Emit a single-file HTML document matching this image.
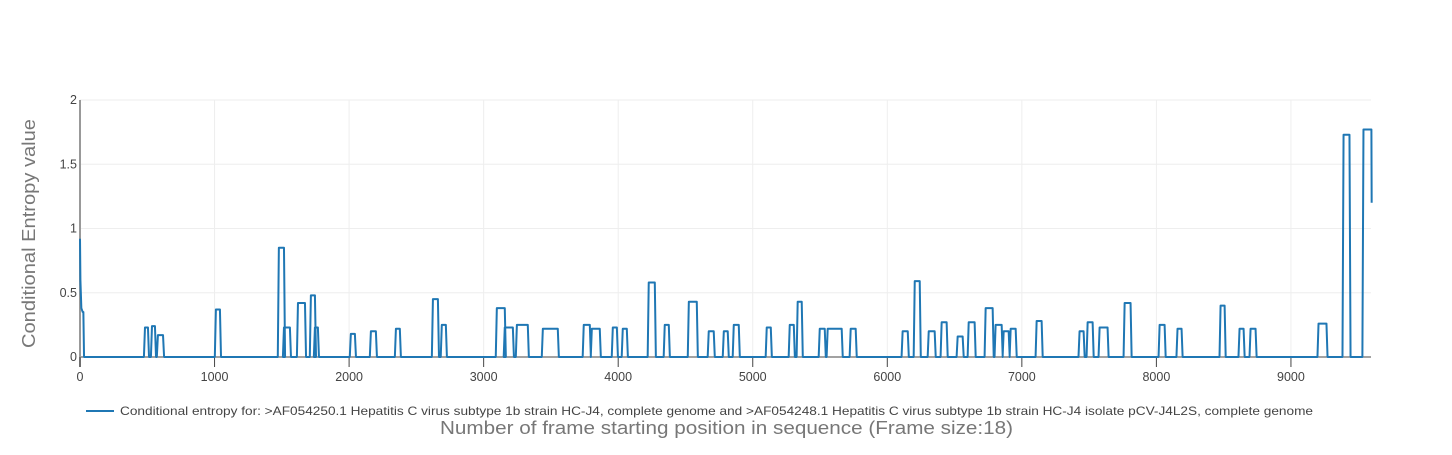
<!DOCTYPE html>
<html><head><meta charset="utf-8"><style>
body{margin:0;background:#fff;font-family:"Liberation Sans",sans-serif;}
svg text{font-family:"Liberation Sans",sans-serif;}
</style></head><body>
<svg id="chart" width="1452" height="450" xmlns="http://www.w3.org/2000/svg">
<g id="grid"></g>
<g id="xticks"></g>
<g id="yticks"></g>
<path id="line" fill="none" stroke="#1f77b4" stroke-width="2" stroke-linejoin="round"></path>
<g>
<line x1="86" y1="411" x2="114" y2="411" stroke="#1f77b4" stroke-width="2"/>
<text x="120" y="415" font-size="12" fill="#444" textLength="1193" lengthAdjust="spacingAndGlyphs">Conditional entropy for: &gt;AF054250.1 Hepatitis C virus subtype 1b strain HC-J4, complete genome and &gt;AF054248.1 Hepatitis C virus subtype 1b strain HC-J4 isolate pCV-J4L2S, complete genome</text>
</g>
<text x="440" y="434" font-size="18" fill="#777" textLength="573" lengthAdjust="spacingAndGlyphs">Number of frame starting position in sequence (Frame size:18)</text>
<text transform="translate(35,348) rotate(-90)" font-size="18" fill="#777" textLength="229" lengthAdjust="spacingAndGlyphs">Conditional Entropy value</text>
</svg>
<script>
const xTicks=[0,1000,2000,3000,4000,5000,6000,7000,8000,9000];
const yTicks=[0,0.5,1,1.5,2];
const yTickLabels=["0","0.5","1","1.5","2"];
const initX=[0,3,10,20,25,30];
const initY=[0.92,0.6,0.38,0.35,0.35,0];
const blockStart=[483,535,579,1010,1478,1516,1620,1716,1746,2013,2162,2348,2623,2689,3098,3157,3247,3440,3744,3804,3960,4034,4227,4346,4525,4673,4785,4859,5104,5275,5334,5498,5557,5728,6114,6204,6308,6404,6523,6605,6731,6805,6865,6917,7110,7429,7489,7578,7764,8024,8157,8477,8618,8700,9205,9391,9539];
const blockEnd=[505,557,617,1040,1516,1560,1672,1746,1768,2043,2199,2377,2660,2719,3157,3217,3328,3551,3789,3863,3990,4064,4272,4376,4584,4710,4814,4896,5134,5305,5364,5535,5661,5765,6152,6241,6352,6441,6560,6649,6783,6850,6902,6954,7147,7459,7526,7637,7808,8061,8187,8507,8648,8737,9264,9435,9598];
const blockVal=[0.23,0.24,0.17,0.37,0.85,0.23,0.42,0.48,0.23,0.18,0.2,0.22,0.45,0.25,0.38,0.23,0.25,0.22,0.25,0.22,0.23,0.22,0.58,0.25,0.43,0.2,0.2,0.25,0.23,0.25,0.43,0.22,0.22,0.22,0.2,0.59,0.2,0.27,0.16,0.27,0.38,0.25,0.2,0.22,0.28,0.2,0.27,0.23,0.42,0.25,0.22,0.4,0.22,0.22,0.26,1.73,1.77];
const endVal=1.2;
const X0=80,X1=1371,xMin=0,xMax=9595,Y0=357,Y1=100,yMin=0,yMax=2;
const sx=v=>X0+(v-xMin)/(xMax-xMin)*(X1-X0);
const sy=v=>Y0-(v-yMin)/(yMax-yMin)*(Y0-Y1);
const NS="http://www.w3.org/2000/svg";
function mk(tag,attrs,parent){const e=document.createElementNS(NS,tag);for(const k in attrs)e.setAttribute(k,attrs[k]);parent.appendChild(e);return e;}
const grid=document.getElementById('grid'),xg=document.getElementById('xticks'),yg=document.getElementById('yticks');
xTicks.forEach(t=>{
 const l=mk('line',{x1:sx(t),x2:sx(t),y1:Y1,y2:Y0,stroke:'#eee','stroke-width':1},grid);
 
 
 const tk=mk('line',{x1:sx(t),x2:sx(t),y1:Y0,y2:Y0+10,stroke:'#444','stroke-width':1},xg);
 
 
 const tx=mk('text',{x:sx(t),y:Y0+24,'font-size':12.5,fill:'#444','text-anchor':'middle'},xg);
 tx.textContent=t;
 
 
});
yTicks.forEach((t,i)=>{
 if(t>0){const l=mk('line',{x1:X0,x2:X1,y1:sy(t),y2:sy(t),stroke:'#eee','stroke-width':1},grid);
 
 }
 const tx=mk('text',{x:X0-3,y:sy(t)+4,'font-size':12.5,fill:'#444','text-anchor':'end'},yg);
 tx.textContent=yTickLabels[i];
 
 
});
const z=mk('line',{x1:X0,x2:X1,y1:Y0,y2:Y0,stroke:'#444','stroke-width':1},grid);


const ya=mk('line',{x1:X0,x2:X0,y1:Y1,y2:Y0+10,stroke:'#999','stroke-width':2},grid);


let d='';
initX.forEach((x,i)=>{d+=(i?'L':'M')+sx(x)+','+sy(initY[i]);});
blockStart.forEach((s,i)=>{
 const e=blockEnd[i],v=blockVal[i],last=i===blockStart.length-1;
 d+='L'+sx(s-8)+','+sy(0)+'L'+sx(s)+','+sy(v)+'L'+sx(e)+','+sy(v);
 if(last)d+='L'+sx(e+2)+','+sy(endVal);else d+='L'+sx(e+8)+','+sy(0);
});
document.getElementById('line').setAttribute('d',d);
</script>
</body></html>
